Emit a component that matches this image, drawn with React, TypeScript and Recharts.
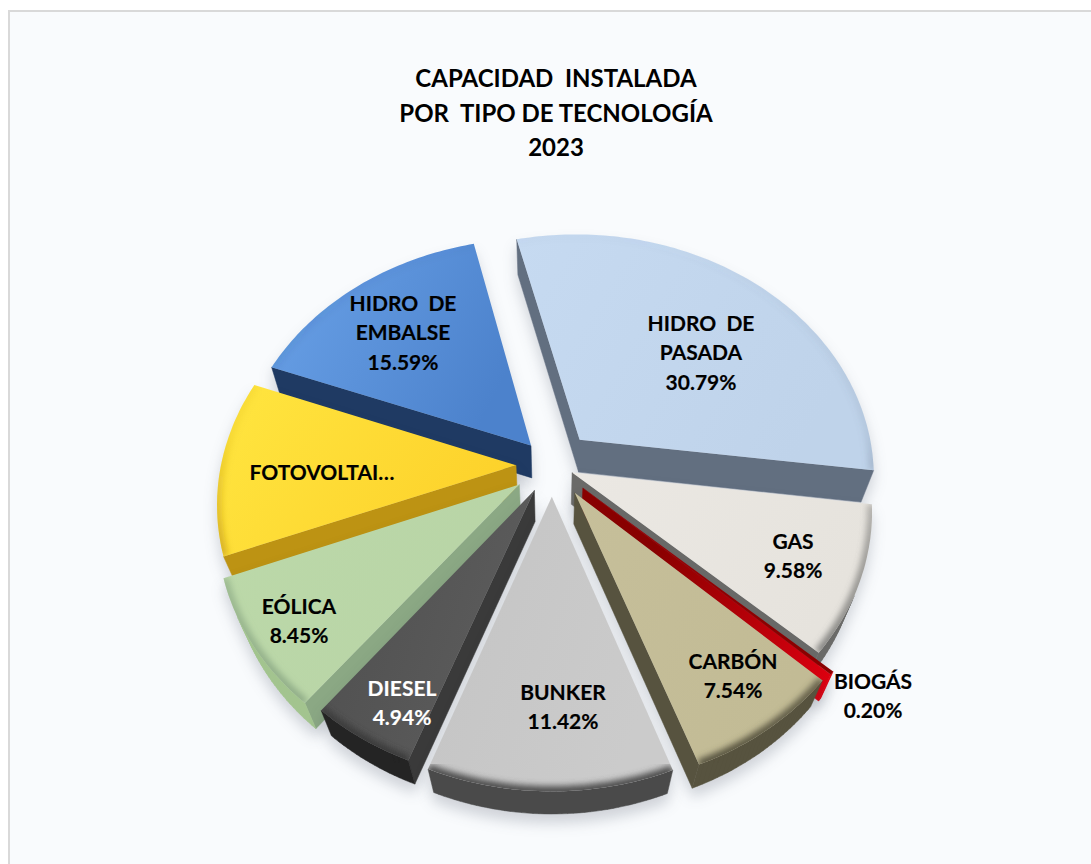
import { PieChart, Pie } from "recharts";

const names = ["HIDRO DE PASADA", "GAS", "BIOGÁS", "CARBÓN", "BUNKER", "DIESEL", "EÓLICA", "FOTOVOLTAICA", "HIDRO DE EMBALSE"];
const shares = [30.79, 9.58, 0.2, 7.54, 11.42, 4.94, 8.45, 11.49, 15.59];

// painted back to front, the slices sit apart so this is enough instead of a z-buffer
const drawOrder = ["HIDRO DE EMBALSE", "HIDRO DE PASADA", "FOTOVOLTAICA", "GAS", "BIOGÁS", "CARBÓN", "EÓLICA", "DIESEL", "BUNKER"];

const data = names.map((name, i) => ({ name, value: shares[i] }));

const explodeBy: Record<string, number> = {
  "HIDRO DE PASADA": 42,
  GAS: 22,
  "BIOGÁS": 41,
  "CARBÓN": 40,
  BUNKER: 38,
  DIESEL: 35,
  "EÓLICA": 40,
  FOTOVOLTAICA: 36,
  "HIDRO DE EMBALSE": 32,
};
const faceColors: Record<string, [string, string]> = {
  "HIDRO DE PASADA": ["#c6daf1", "#bfd3ea"],
  GAS: ["#ebe8e3", "#e6e3dd"],
  "BIOGÁS": ["#a00006", "#8a0000"],
  "CARBÓN": ["#c6bf9a", "#c2bb95"],
  BUNKER: ["#c4c4c4", "#cbcbcb"],
  DIESEL: ["#4e4e4e", "#5c5c5c"],
  "EÓLICA": ["#bcd9a9", "#b8d4a6"],
  FOTOVOLTAICA: ["#ffe640", "#fdd22b"],
  "HIDRO DE EMBALSE": ["#6aa2e8", "#4c82cc"],
};
const wallColors: Record<string, string> = {
  "HIDRO DE PASADA": "#626f80",
  GAS: "#6a6a68",
  "BIOGÁS": "#8a0000",
  "CARBÓN": "#57533f",
  BUNKER: "#4a4a4a",
  DIESEL: "#3a3a3a",
  "EÓLICA": "#8ba884",
  FOTOVOLTAICA: "#bd9313",
  "HIDRO DE EMBALSE": "#1f3a63",
};
const wallTipColors: Record<string, string> = { "BIOGÁS": "#dc0010" };
const arcWallColors: Record<string, string> = { DIESEL: "#242424", "EÓLICA": "#a3c48f", "BIOGÁS": "#dc0010" };

const labelLines: Record<string, string[]> = {
  "HIDRO DE PASADA": ["HIDRO  DE", "PASADA"],
  GAS: ["GAS"],
  "BIOGÁS": ["BIOGÁS"],
  "CARBÓN": ["CARBÓN"],
  BUNKER: ["BUNKER"],
  DIESEL: ["DIESEL"],
  "EÓLICA": ["EÓLICA"],
  FOTOVOLTAICA: ["FOTOVOLTAI…"],
  "HIDRO DE EMBALSE": ["HIDRO  DE", "EMBALSE"],
};
const labelAt: Record<string, [number, number]> = {
  "HIDRO DE PASADA": [701, 331],
  GAS: [793, 549],
  "BIOGÁS": [873, 689],
  "CARBÓN": [733, 669],
  BUNKER: [563, 700],
  DIESEL: [402, 696],
  "EÓLICA": [299, 614],
  FOTOVOLTAICA: [322, 480],
  "HIDRO DE EMBALSE": [403, 311],
};

const DEPTH = 58;
const CAM = 1167;
const TILT_S = 0.82;
const TILT_C = 0.572;

type Pt = [number, number];

function project(cx: number, cy: number, u: number, v: number, h: number): Pt {
  const w = 1 - (v * TILT_C) / CAM + (h * TILT_S) / CAM;
  return [cx + u / w, cy + (v * TILT_S + h * TILT_C) / w];
}

const toPath = (pts: Pt[], close = true) =>
  pts.map((p, i) => `${i ? "L" : "M"}${p[0].toFixed(1)} ${p[1].toFixed(1)}`).join("") + (close ? "Z" : "");

const area = (pts: Pt[]) =>
  pts.reduce((a, p, i) => {
    const q = pts[(i + 1) % pts.length];
    return a + p[0] * q[1] - q[0] * p[1];
  }, 0);

function Slice3D(props: any) {
  const { cx, cy, outerRadius, startAngle, endAngle, name } = props;
  // recharts angles run counter clockwise from 3 o'clock, here clockwise from north
  const from = 90 - startAngle;
  const to = 90 - endAngle;
  const mid = (((from + to) / 2) * Math.PI) / 180;
  const ox = explodeBy[name] * Math.sin(mid);
  const oy = -explodeBy[name] * Math.cos(mid);

  const plan: Pt[] = [[ox, oy]];
  const steps = Math.max(2, Math.ceil(to - from));
  for (let i = 0; i <= steps; i++) {
    const a = ((from + ((to - from) * i) / steps) * Math.PI) / 180;
    plan.push([ox + outerRadius * Math.sin(a), oy - outerRadius * Math.cos(a)]);
  }
  const top = plan.map((p) => project(cx, cy, p[0], p[1], 0));
  const bottom = plan.map((p) => project(cx, cy, p[0], p[1], DEPTH));
  const topArea = area(top);
  const wall = wallColors[name];
  const arcWall = arcWallColors[name] ?? wall;
  const id = name.replace(/[^A-Z]/g, "");
  const radialFill = wallTipColors[name] ? `url(#wall${id})` : wall;

  // only the faces turned to the camera, the arc ones in a single path so no seams show
  let radialPath = "";
  let arcPath = "";
  top.forEach((p, i) => {
    const j = (i + 1) % top.length;
    const quad = [p, top[j], bottom[j], bottom[i]];
    if (area(quad) * topArea > 0) return;
    if (i === 0 || j === 0) radialPath += toPath(quad);
    else arcPath += toPath(quad);
  });

  const arc = top.slice(1);
  const tip = top[top.length - 1];
  const [c1, c2] = faceColors[name];
  return (
    <g style={{ filter: "drop-shadow(0px 9px 7px rgba(40,50,70,0.2))" }}>
      <defs>
        <linearGradient id={`face${id}`} x1="0" y1="0" x2="1" y2="0.4">
          <stop offset="0" stopColor={c1} />
          <stop offset="1" stopColor={c2} />
        </linearGradient>
        <linearGradient id={`wall${id}`} gradientUnits="userSpaceOnUse" x1={top[0][0]} y1={top[0][1]} x2={tip[0]} y2={tip[1]}>
          <stop offset="0.3" stopColor={wall} />
          <stop offset="1" stopColor={wallTipColors[name] ?? wall} />
        </linearGradient>
        <linearGradient id={`rim${id}`} gradientUnits="userSpaceOnUse" x1="0" y1={cy - 250} x2="0" y2={cy + 290}>
          <stop offset="0" stopColor={wall} stopOpacity={0} />
          <stop offset="0.4" stopColor={wall} stopOpacity={0.12} />
          <stop offset="0.6" stopColor={wall} stopOpacity={0.55} />
          <stop offset="1" stopColor={wall} stopOpacity={1} />
        </linearGradient>
        <clipPath id={`clip${id}`}>
          <path d={toPath(top)} />
        </clipPath>
        <filter id={`soft${id}`} x="-20%" y="-20%" width="140%" height="140%">
          <feGaussianBlur stdDeviation={3} />
        </filter>
      </defs>
      <path d={radialPath} fill={radialFill} stroke={radialFill} strokeWidth={0.5} />
      <path d={arcPath} fill={arcWall} stroke={arcWall} strokeWidth={0.5} />
      <path d={toPath(top)} fill={`url(#face${id})`} />
      <g clipPath={`url(#clip${id})`}>
        <path d={toPath(arc, false)} fill="none" stroke={`url(#rim${id})`} strokeWidth={10} filter={`url(#soft${id})`} />
      </g>
    </g>
  );
}

const onlySlice = (target: string) => (props: any) => (props.name === target ? <Slice3D {...props} /> : <g />);

function SliceLabel(props: any) {
  const { name, value } = props;
  const [x, y] = labelAt[name];
  const lines = name === "FOTOVOLTAICA" ? labelLines[name] : [...labelLines[name], `${value.toFixed(2)}%`];
  const ink = name === "DIESEL" ? "#ffffff" : "#000000";
  return (
    <text
      x={x}
      y={y}
      textAnchor="middle"
      fontFamily="Lato"
      fontWeight={700}
      fontSize={21}
      fill={ink}
      stroke={ink}
      strokeWidth={0.15}
      style={{ whiteSpace: "pre" }}
    >
      {lines.map((line, i) => (
        <tspan key={i} x={x} dy={i ? 29.3 : 0}>
          {line}
        </tspan>
      ))}
    </text>
  );
}

const titleLines = ["CAPACIDAD  INSTALADA", "POR  TIPO DE TECNOLOGÍA", "2023"];

export default function App() {
  return (
    <div style={{ position: "absolute", left: 0, top: 0, width: 1091, height: 864, background: "#fff", overflow: "hidden" }}>
      <div
        style={{
          position: "absolute",
          left: 8,
          top: 10,
          width: 1100,
          height: 870,
          background: "#f9fbfd",
          borderLeft: "2px solid #d9d9d9",
          borderTop: "2px solid #d9d9d9",
        }}
      />
      <div style={{ position: "absolute", left: 0, top: 0 }}>
        <PieChart width={1091} height={864}>
          {drawOrder.map((target) => (
            <Pie
              key={target}
              data={data}
              dataKey="value"
              nameKey="name"
              cx={547}
              cy={460}
              outerRadius={295}
              startAngle={103.5}
              endAngle={-256.5}
              stroke="none"
              isAnimationActive={false}
              shape={onlySlice(target)}
            />
          ))}
          <Pie
            data={data}
            dataKey="value"
            nameKey="name"
            cx={547}
            cy={460}
            outerRadius={295}
            startAngle={103.5}
            endAngle={-256.5}
            fill="none"
            stroke="none"
            isAnimationActive={false}
            shape={() => <g />}
            labelLine={false}
            label={SliceLabel}
          />
        </PieChart>
      </div>
      {titleLines.map((line, i) => (
        <div
          key={line}
          style={{
            position: "absolute",
            left: 256,
            width: 600,
            top: 64 + i * 34.5,
            textAlign: "center",
            fontFamily: "Lato",
            fontWeight: 700,
            fontSize: 24,
            lineHeight: "28px",
            color: "#000",
            whiteSpace: "pre",
          }}
        >
          {line}
        </div>
      ))}
    </div>
  );
}
